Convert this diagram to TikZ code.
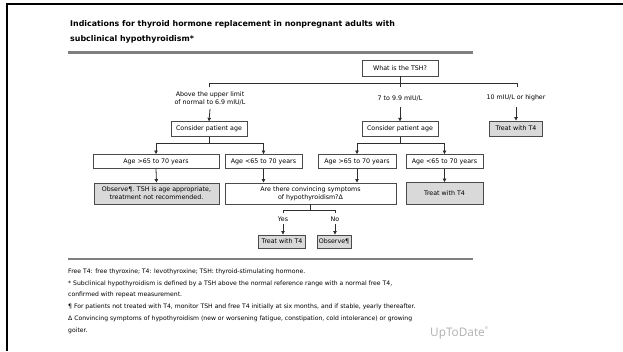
\documentclass[tikz,border=0pt]{standalone}
\usepackage{fontspec}
\setmainfont{DejaVu Sans}
\newfontfamily\logofont{Open Sans}
\usetikzlibrary{arrows.meta}
\definecolor{boxline}{HTML}{4A4A4A}
\definecolor{linec}{HTML}{2E2E2E}
\definecolor{boxgray}{HTML}{D9D9D9}
\definecolor{rulegray}{HTML}{7F7F7F}
\definecolor{logogray}{HTML}{B0B0B0}
\begin{document}
\begin{tikzpicture}[x=1pt,y=-1pt,
  box/.style={draw=boxline, line width=0.9pt, fill=white, inner sep=0pt, align=center,
    font=\fontsize{6.3}{8}\selectfont},
  gbox/.style={box, fill=boxgray},
  lab/.style={inner sep=0pt, align=center, font=\fontsize{6.3}{8}\selectfont},
  ln/.style={draw=linec, line width=0.8pt},
  arr/.style={ln, -{Triangle[length=3.5pt,width=3.5pt]}}
]
\useasboundingbox (0,0) rectangle (623,351);
% frame
\draw[line width=2pt, black] (6.5,351) -- (6.5,4) -- (623,4);
% title
\node[anchor=north west, inner sep=0pt, align=left, font=\fontsize{7.9}{14.8}\selectfont\bfseries] (title) at (70,20.5)
  {Indications for thyroid hormone replacement in nonpregnant adults with\\subclinical hypothyroidism*};
% rules
\draw[rulegray, line width=2.5pt] (68,52.5) -- (473,52.5);
\draw[rulegray, line width=2pt] (68,259) -- (473,259);

% nodes
\node[box, minimum width=76pt, minimum height=16pt] (tsh) at (400,68) {What is the TSH?};
\node[lab] (l1) at (210,98) {Above the upper limit\\of normal to 6.9 mIU/L};
\node[lab] (l2) at (400,98) {7 to 9.9 mIU/L};
\node[lab] (l3) at (516,98) {10 mIU/L or higher};
\node[box, minimum width=76pt, minimum height=14.5pt] (c1) at (209,129) {Consider patient age};
\node[box, minimum width=76pt, minimum height=14.5pt] (c2) at (400,129) {Consider patient age};
\node[gbox, minimum width=53pt, minimum height=15pt] (t3) at (516,128.5) {Treat with T4};
\node[box, minimum width=126pt, minimum height=14pt] (a1) at (156,161.5) {Age >65 to 70 years};
\node[box, minimum width=77pt, minimum height=14pt] (a2) at (263.5,161.5) {Age <65 to 70 years};
\node[box, minimum width=78pt, minimum height=14pt] (a3) at (357,161.5) {Age >65 to 70 years};
\node[box, minimum width=77pt, minimum height=14pt] (a4) at (444.5,161.5) {Age <65 to 70 years};
\node[gbox, minimum width=125pt, minimum height=21pt] (ob1) at (156.5,193.5) {Observe¶. TSH is age appropriate,\\treatment not recommended.};
\node[box, minimum width=171pt, minimum height=21pt] (q) at (310.5,193.5) {Are there convincing symptoms\\of hypothyroidism?Δ};
\node[gbox, minimum width=77pt, minimum height=22pt] (t2) at (444.5,193.5) {Treat with T4};
\node[lab] (yes) at (283,219) {Yes};
\node[lab] (no) at (335,219) {No};
\node[gbox, minimum width=47pt, minimum height=13pt] (t1) at (282,241.5) {Treat with T4};
\node[gbox, minimum width=34pt, minimum height=13pt] (ob2) at (334,241.5) {Observe¶};

% connectors top
\coordinate (h1) at (209,83);
\coordinate (h3) at (517,83);
\draw[ln] (tsh.south) -- (400,87);
\draw[ln] (209,87) -- (h1) -- (h3) -- (517,87);
\draw[arr] ([yshift=-4pt]l1.south) -- (c1.north);
\draw[arr] ([yshift=-6pt]l2.south) -- (c2.north);
\draw[arr] ([yshift=-6pt]l3.south) -- (t3.north);
% consider -> ages
\coordinate (s1) at (209,143);
\coordinate (s2) at (400,143);
\draw[ln] (c1.south) -- (s1);
\draw[ln] (c2.south) -- (s2);
\draw[ln] (s1 -| a1.north) -- (s1 -| a2.north);
\draw[ln] (s2 -| a3.north) -- (s2 -| a4.north);
\draw[arr] (s1 -| a1.north) -- (a1.north);
\draw[arr] (s1 -| a2.north) -- (a2.north);
\draw[arr] (s2 -| a3.north) -- (a3.north);
\draw[arr] (s2 -| a4.north) -- (a4.north);
% ages -> next
\draw[arr] (a1.south) -- (ob1.north);
\draw[arr] (a2.south) -- (a2.south |- q.north);
\draw[arr] (a3.south) -- (a3.south |- q.north);
\draw[arr] (a4.south) -- (t2.north);
% question -> yes/no
\coordinate (s3) at (310.5,210);
\draw[ln] (q.south) -- (s3);
\draw[ln] (283,213) -- (283,210) -- (335,210) -- (335,213);
\draw[arr] ([yshift=-2pt]yes.south) -- (yes.south |- t1.north);
\draw[arr] ([yshift=-2pt]no.south) -- (no.south |- ob2.north);

% footnotes
\node[anchor=north west, inner sep=0pt, align=left, font=\fontsize{6.1}{11.8}\selectfont] (fn) at (68,268.5)
  {Free T4: free thyroxine; T4: levothyroxine; TSH: thyroid-stimulating hormone.\\
   * Subclinical hypothyroidism is defined by a TSH above the normal reference range with a normal free T4,\\
   confirmed with repeat measurement.\\
   ¶ For patients not treated with T4, monitor TSH and free T4 initially at six months, and if stable, yearly thereafter.\\
   Δ Convincing symptoms of hypothyroidism (new or worsening fatigue, constipation, cold intolerance) or growing\\
   goiter.};
\node[anchor=west, inner sep=0pt, text=logogray, font=\logofont\fontsize{11.8}{14}\selectfont] (logo) at (430,333)
  {UpToDate\raisebox{1.05ex}{\fontsize{4}{5}\selectfont ®}};
\end{tikzpicture}
\end{document}
